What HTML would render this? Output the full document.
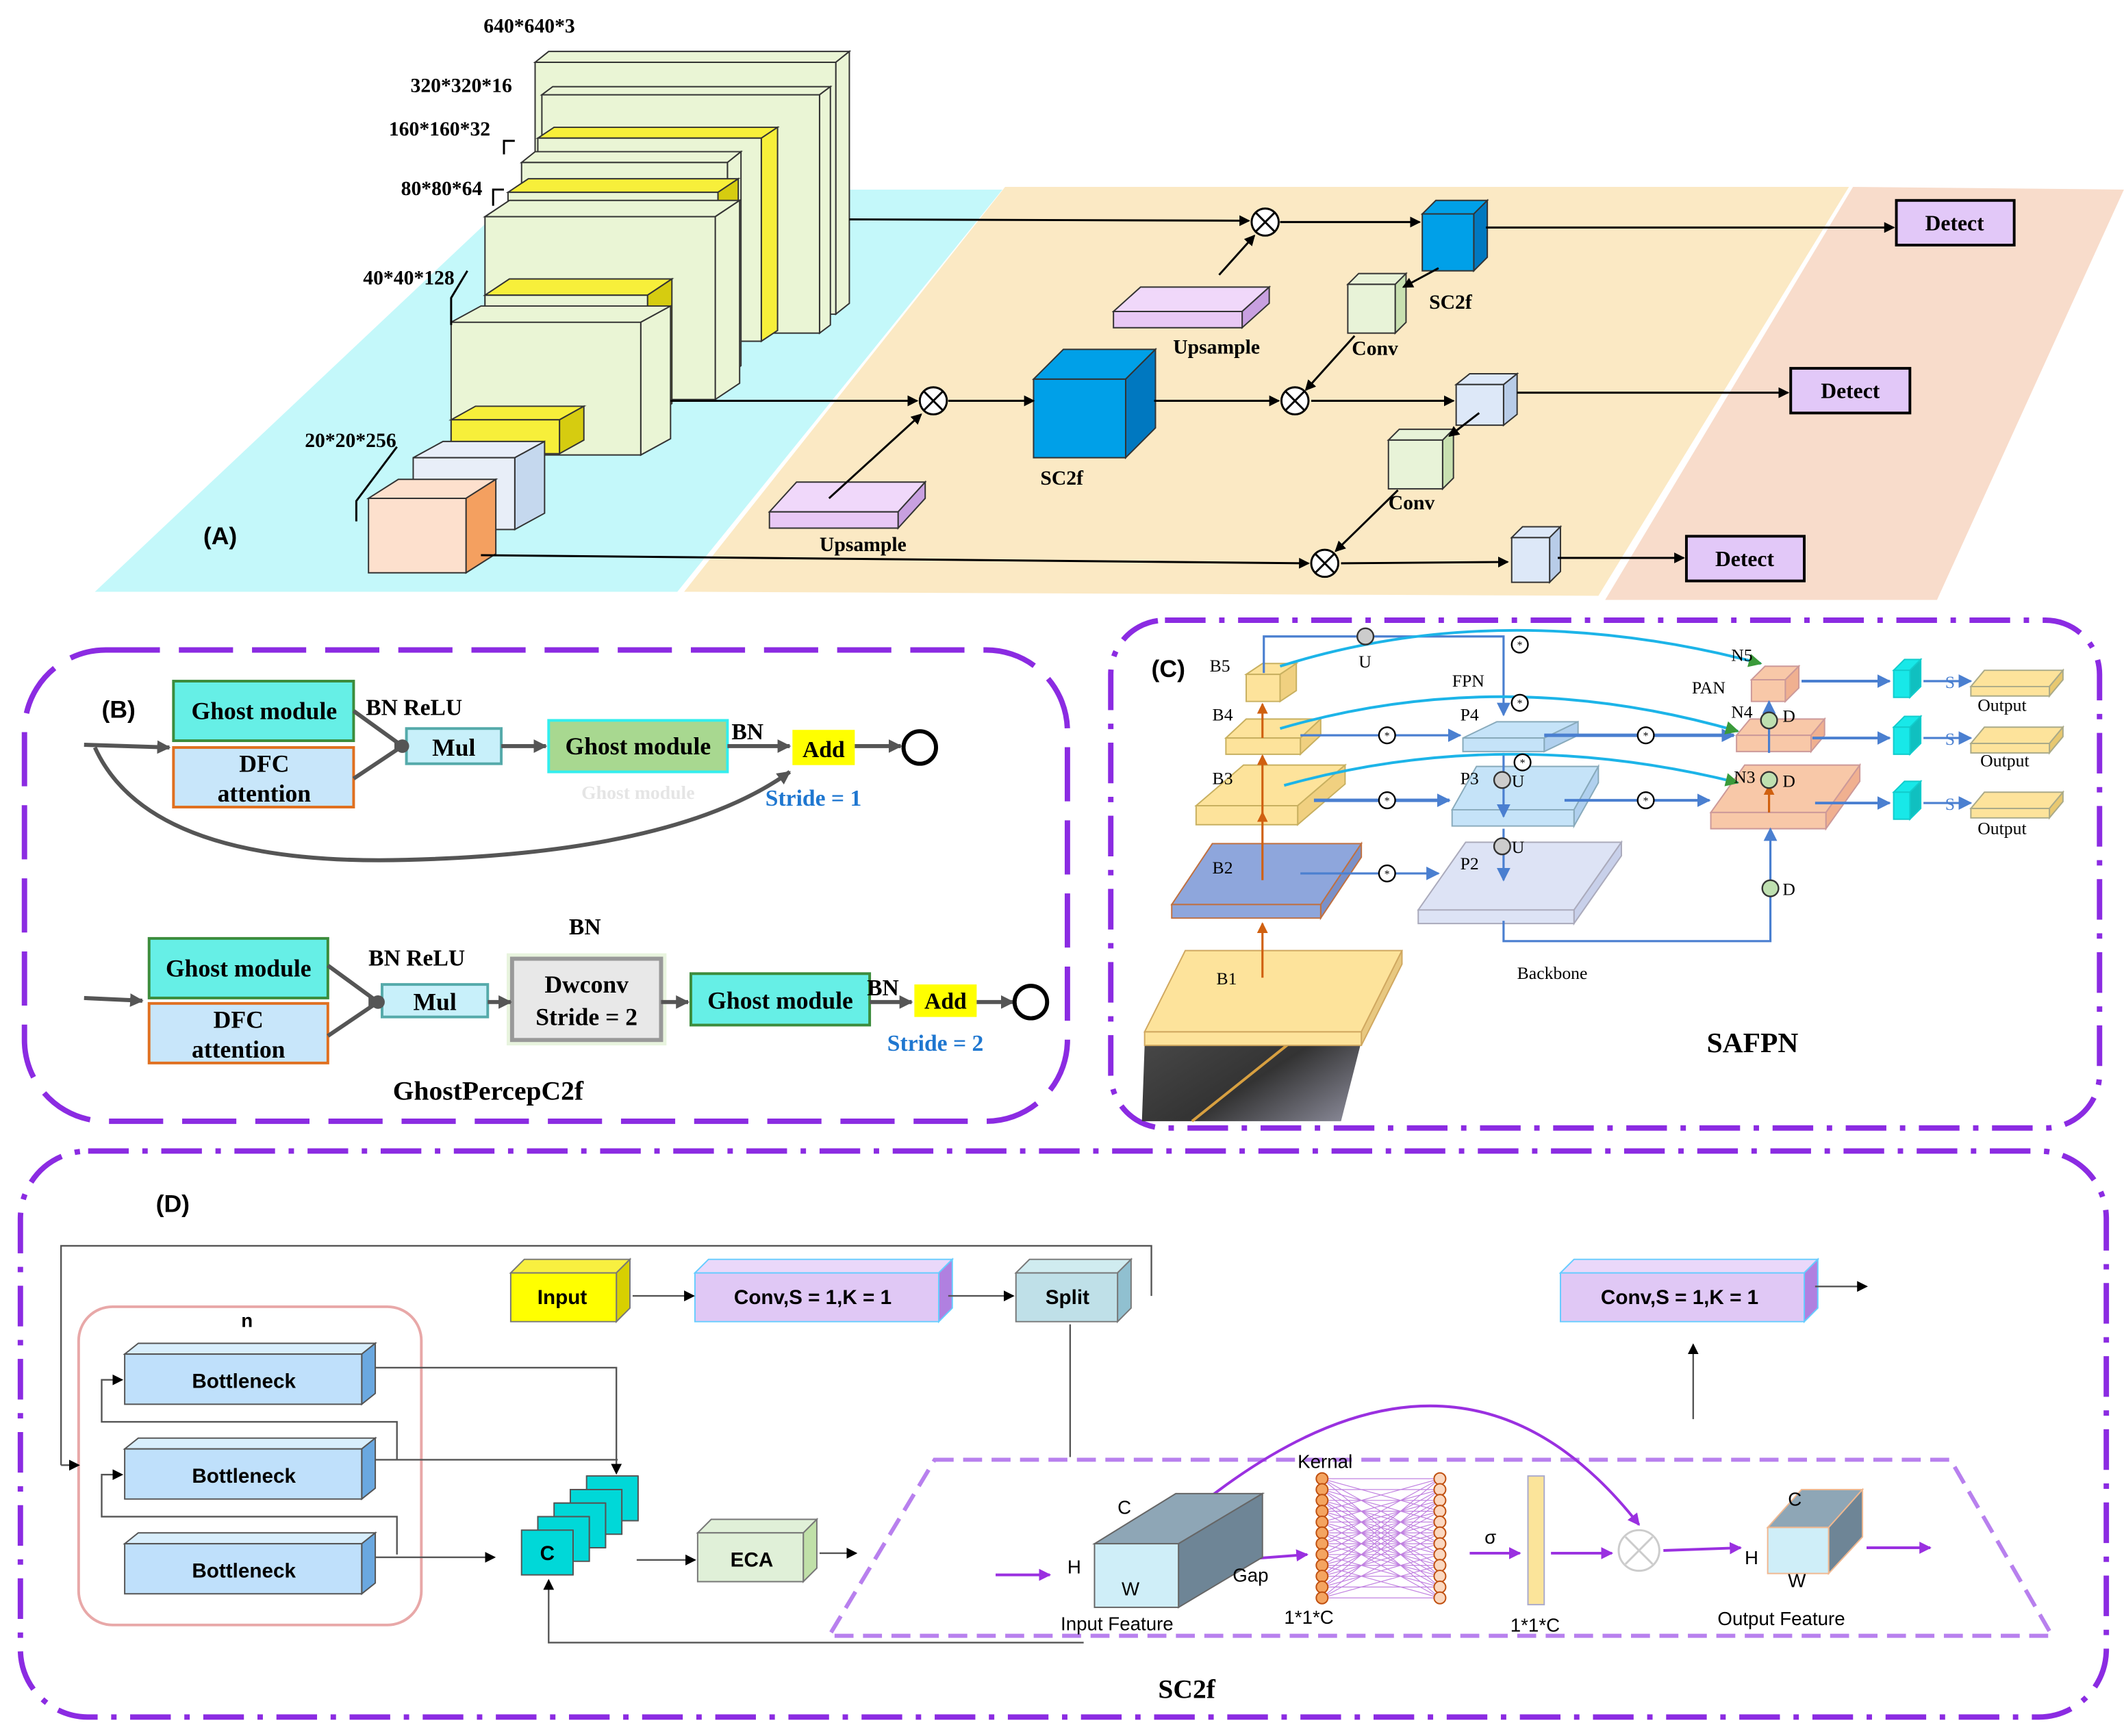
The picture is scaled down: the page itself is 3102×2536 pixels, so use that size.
<!DOCTYPE html>
<html><head><meta charset="utf-8"><style>
html,body{margin:0;padding:0;background:#fff}
svg{display:block}
.s{font-family:"Liberation Serif",serif;font-weight:bold}
.a{font-family:"Liberation Sans",sans-serif;font-weight:bold}
.n{font-family:"Liberation Serif",serif}
</style></head><body>
<svg id="g" width="3102" height="2536" viewBox="0 0 1568 1282" xmlns="http://www.w3.org/2000/svg">
<defs>
<marker id="ar" markerWidth="8" markerHeight="8" refX="7" refY="4" orient="auto" markerUnits="userSpaceOnUse"><path d="M0,0L8,4L0,8z" fill="#000"/></marker>
<marker id="ag" markerWidth="10" markerHeight="10" refX="9" refY="5" orient="auto" markerUnits="userSpaceOnUse"><path d="M0,0L10,5L0,10z" fill="#555"/></marker>
<marker id="ab" markerWidth="10" markerHeight="10" refX="9" refY="5" orient="auto" markerUnits="userSpaceOnUse"><path d="M0,0L10,5L0,10z" fill="#4a7fd0"/></marker>
<marker id="ao" markerWidth="8" markerHeight="8" refX="7" refY="4" orient="auto" markerUnits="userSpaceOnUse"><path d="M0,0L8,4L0,8z" fill="#d06010"/></marker>
<marker id="ac" markerWidth="10" markerHeight="10" refX="9" refY="5" orient="auto" markerUnits="userSpaceOnUse"><path d="M0,0L10,5L0,10z" fill="#3a9a3a"/></marker>
<marker id="ap" markerWidth="9" markerHeight="9" refX="8" refY="4.5" orient="auto" markerUnits="userSpaceOnUse"><path d="M0,0L9,4.5L0,9z" fill="#9a30e0"/></marker>
<linearGradient id="ph" x1="0" y1="0" x2="1" y2="1"><stop offset="0" stop-color="#555"/><stop offset="0.6" stop-color="#333"/><stop offset="1" stop-color="#99a"/></linearGradient>
</defs>
<!-- Panel A backgrounds -->
<polygon points="70,437 500,437 740,140 385,140" fill="#c4f8fa"/>
<polygon points="505,437 1180,440 1365,138 742,138" fill="#fbe9c4"/>
<polygon points="1185,443 1430,443 1568,140 1368,138" fill="#f8dccb"/>
<g id="cubesA"></g>
<g id="linesA" fill="none" stroke="#000" stroke-width="1.5">
<line x1="627" y1="162" x2="922" y2="163" marker-end="url(#ar)"/>
<line x1="945" y1="164" x2="1048" y2="164" marker-end="url(#ar)"/>
<line x1="1097" y1="168" x2="1398" y2="168" marker-end="url(#ar)"/>
<line x1="900" y1="203" x2="926" y2="174" marker-end="url(#ar)"/>
<line x1="1062" y1="198" x2="1036" y2="212" marker-end="url(#ar)"/>
<line x1="1000" y1="248" x2="964" y2="288" marker-end="url(#ar)"/>
<line x1="495" y1="296" x2="677" y2="296" marker-end="url(#ar)"/>
<line x1="700" y1="296" x2="763" y2="296" marker-end="url(#ar)"/>
<line x1="852" y1="296" x2="944" y2="296" marker-end="url(#ar)"/>
<line x1="968" y1="296" x2="1073" y2="296" marker-end="url(#ar)"/>
<line x1="1120" y1="290" x2="1320" y2="290" marker-end="url(#ar)"/>
<line x1="612" y1="368" x2="680" y2="306" marker-end="url(#ar)"/>
<line x1="1092" y1="305" x2="1070" y2="322" marker-end="url(#ar)"/>
<line x1="1032" y1="362" x2="986" y2="407" marker-end="url(#ar)"/>
<line x1="355" y1="410" x2="966" y2="416" marker-end="url(#ar)"/>
<line x1="990" y1="416" x2="1113" y2="415" marker-end="url(#ar)"/>
<line x1="1150" y1="412" x2="1243" y2="412" marker-end="url(#ar)"/>
<path d="M380,104 l-8,0 l0,10 M372,140 l-8,0 l0,12 M345,200 l-12,20 l0,20 M293,330 l-30,40 l0,15"/>
</g>
<g fill="#fff" stroke="#000" stroke-width="1.5">
<circle cx="934" cy="164" r="10"/><circle cx="689" cy="296" r="10"/><circle cx="956" cy="296" r="10"/><circle cx="978" cy="416" r="10"/>
</g>
<g stroke="#000" stroke-width="1.5">
<path d="M927,157l14,14M941,157l-14,14M682,289l14,14M696,289l-14,14M949,289l14,14M963,289l-14,14M971,409l14,14M985,409l-14,14"/>
</g>
<g fill="#e2c8f8" stroke="#000" stroke-width="2">
<rect x="1400" y="148" width="87" height="33"/><rect x="1322" y="272" width="88" height="33"/><rect x="1245" y="396" width="87" height="33"/>
</g>
<g class="s" font-size="16" text-anchor="middle"><text x="1443" y="170">Detect</text><text x="1366" y="294">Detect</text><text x="1288" y="418">Detect</text></g>
<g class="s" font-size="15">
<text x="357" y="24">640*640*3</text><text x="303" y="68">320*320*16</text><text x="287" y="100">160*160*32</text><text x="296" y="144">80*80*64</text><text x="268" y="210">40*40*128</text><text x="225" y="330">20*20*256</text>
<text x="1055" y="228">SC2f</text><text x="866" y="261">Upsample</text><text x="998" y="262">Conv</text><text x="768" y="358">SC2f</text><text x="1025" y="376">Conv</text><text x="605" y="407">Upsample</text>
</g>
<text class="a" x="150" y="402" font-size="18">(A)</text>

<!-- Panel B -->
<rect x="18" y="480" width="770" height="348" rx="60" fill="none" stroke="#8b2be2" stroke-width="4" stroke-dasharray="40 14"/>
<text class="a" x="75" y="530" font-size="18">(B)</text>
<g stroke-width="2">
<rect x="128" y="503" width="133" height="44" fill="#66efe6" stroke="#3c8c3c"/>
<rect x="128" y="552" width="133" height="44" fill="#c8e6fa" stroke="#e07020"/>
<rect x="300" y="538" width="70" height="26" fill="#c8f0fa" stroke="#5aa"/>
<rect x="405" y="532" width="132" height="38" fill="#a8d890" stroke="#3ee"/>
<rect x="585" y="539" width="46" height="26" fill="#ffff00" stroke="none"/>
<rect x="110" y="693" width="132" height="44" fill="#66efe6" stroke="#3c8c3c"/>
<rect x="110" y="741" width="132" height="44" fill="#c8e6fa" stroke="#e07020"/>
<rect x="282" y="727" width="78" height="24" fill="#c8f0fa" stroke="#5aa"/>
<rect x="374" y="704" width="118" height="68" fill="#d8ecc8" stroke="none" opacity="0.6"/>
<rect x="378" y="708" width="110" height="60" fill="#e8e8e8" stroke="#999" stroke-width="3"/>
<rect x="510" y="719" width="132" height="38" fill="#66efe6" stroke="#3c8c3c"/>
<rect x="675" y="727" width="46" height="24" fill="#ffff00" stroke="none"/>
</g>
<g fill="none" stroke="#555" stroke-width="3">
<line x1="62" y1="550" x2="125" y2="552" marker-end="url(#ag)"/>
<path d="M70,552 Q110,640 300,635 Q500,630 583,570" marker-end="url(#ag)"/>
<path d="M261,525 L297,551 M261,575 L297,551"/>
<line x1="297" y1="551" x2="300" y2="551" marker-end="url(#ag)"/>
<line x1="370" y1="551" x2="403" y2="551" marker-end="url(#ag)"/>
<line x1="537" y1="551" x2="583" y2="551" marker-end="url(#ag)"/>
<line x1="631" y1="551" x2="665" y2="551" marker-end="url(#ag)"/>
<line x1="62" y1="737" x2="105" y2="739" marker-end="url(#ag)"/>
<path d="M242,713 L279,740 M242,765 L279,740"/>
<line x1="279" y1="740" x2="281" y2="740" marker-end="url(#ag)"/>
<line x1="360" y1="740" x2="377" y2="740" marker-end="url(#ag)"/>
<line x1="488" y1="740" x2="508" y2="740" marker-end="url(#ag)"/>
<line x1="642" y1="740" x2="673" y2="740" marker-end="url(#ag)"/>
<line x1="721" y1="740" x2="748" y2="740" marker-end="url(#ag)"/>
</g>
<circle cx="297" cy="551" r="5" fill="#555"/><circle cx="279" cy="740" r="5" fill="#555"/>
<circle cx="679" cy="552" r="12" fill="#fff" stroke="#000" stroke-width="3"/>
<circle cx="761" cy="740" r="12" fill="#fff" stroke="#000" stroke-width="3"/>
<g class="s" font-size="18" text-anchor="middle">
<text x="195" y="531">Ghost module</text><text x="195" y="570">DFC</text><text x="195" y="592">attention</text>
<text x="335" y="558">Mul</text><text x="471" y="557">Ghost module</text>
<text x="608" y="559" font-size="17">Add</text>
<text x="176" y="721">Ghost module</text><text x="176" y="759">DFC</text><text x="176" y="781">attention</text>
<text x="321" y="746">Mul</text><text x="433" y="733">Dwconv</text><text x="433" y="757">Stride = 2</text>
<text x="576" y="745">Ghost module</text><text x="698" y="745" font-size="17">Add</text>
<text x="471" y="590" fill="#ccc" opacity="0.5" font-size="14">Ghost module</text>
</g>
<g class="s" font-size="17">
<text x="270" y="528">BN ReLU</text><text x="540" y="546">BN</text>
<text x="272" y="713">BN ReLU</text><text x="420" y="690">BN</text><text x="640" y="735">BN</text>
<text x="565" y="595" fill="#1f77d0">Stride = 1</text><text x="655" y="776" fill="#1f77d0">Stride = 2</text>
<text x="290" y="812" font-size="20">GhostPercepC2f</text>
</g>

<!-- Panel C -->
<rect x="820" y="458" width="730" height="375" rx="40" fill="none" stroke="#8b2be2" stroke-width="4" stroke-dasharray="30 10 4 10"/>
<text class="a" x="850" y="500" font-size="18">(C)</text>
<polygon points="845,772 1005,772 1018,718 990,828 843,828" fill="url(#ph)"/>
<path d="M880,828 L990,740" stroke="#d8a040" stroke-width="2"/>
<g id="cubesC"></g>
<g fill="none" stroke="#4a7fd0" stroke-width="1.6">
<path d="M933,497 V470 H1110 V528" marker-end="url(#ab)"/>
<line x1="960" y1="543" x2="1078" y2="543" marker-end="url(#ab)"/>
<line x1="1140" y1="543" x2="1280" y2="543" stroke-width="2.5" marker-end="url(#ab)"/>
<line x1="970" y1="591" x2="1070" y2="591" stroke-width="2.5" marker-end="url(#ab)"/>
<line x1="1155" y1="591" x2="1262" y2="591" stroke-width="2" marker-end="url(#ab)"/>
<line x1="960" y1="645" x2="1062" y2="645" marker-end="url(#ab)"/>
<line x1="1110" y1="556" x2="1110" y2="603" marker-end="url(#ab)"/>
<line x1="1110" y1="612" x2="1110" y2="650" marker-end="url(#ab)"/>
<path d="M1110,680 V695 H1307 V612" marker-end="url(#ab)"/>
<line x1="1306" y1="556" x2="1306" y2="518" marker-end="url(#ab)"/>
<line x1="1330" y1="503" x2="1395" y2="503" stroke-width="2" marker-end="url(#ab)"/>
<line x1="1338" y1="545" x2="1395" y2="545" stroke-width="2" marker-end="url(#ab)"/>
<line x1="1340" y1="593" x2="1395" y2="593" stroke-width="2" marker-end="url(#ab)"/>
<line x1="1420" y1="503" x2="1455" y2="503" marker-end="url(#ab)"/>
<line x1="1420" y1="545" x2="1455" y2="545" marker-end="url(#ab)"/>
<line x1="1420" y1="593" x2="1455" y2="593" marker-end="url(#ab)"/>
</g>
<g fill="none" stroke="#1cb4e8" stroke-width="2">
<path d="M945,492 Q1110,440 1300,490" marker-end="url(#ac)"/>
<path d="M945,538 Q1110,490 1283,540" marker-end="url(#ac)"/>
<path d="M948,580 Q1110,535 1283,578" marker-end="url(#ac)"/>
</g>
<g stroke="#d06010" stroke-width="1.6">
<line x1="932" y1="722" x2="932" y2="682" marker-end="url(#ao)"/>
<line x1="932" y1="650" x2="932" y2="600" marker-end="url(#ao)"/>
<line x1="932" y1="605" x2="932" y2="558" marker-end="url(#ao)"/>
<line x1="932" y1="545" x2="932" y2="520" marker-end="url(#ao)"/>
<line x1="1306" y1="600" x2="1306" y2="580" marker-end="url(#ao)"/>
</g>
<g fill="#fff" stroke="#000" stroke-width="1.2">
<circle cx="1122" cy="476" r="6"/><circle cx="1122" cy="519" r="6"/><circle cx="1124" cy="563" r="6"/><circle cx="1024" cy="543" r="6"/><circle cx="1215" cy="543" r="6"/><circle cx="1024" cy="591" r="6"/><circle cx="1215" cy="591" r="6"/><circle cx="1024" cy="645" r="6"/>
</g>
<g class="n" font-size="8" text-anchor="middle"><text x="1122" y="479">*</text><text x="1122" y="522">*</text><text x="1124" y="566">*</text><text x="1024" y="546">*</text><text x="1215" y="546">*</text><text x="1024" y="594">*</text><text x="1215" y="594">*</text><text x="1024" y="648">*</text></g>
<g stroke="#333" stroke-width="1.2"><circle cx="1008" cy="470" r="6" fill="#ccc"/><circle cx="1109" cy="576" r="6" fill="#ccc"/><circle cx="1109" cy="625" r="6" fill="#ccc"/>
<circle cx="1306" cy="532" r="6" fill="#bfe0b0"/><circle cx="1306" cy="576" r="6" fill="#bfe0b0"/><circle cx="1307" cy="656" r="6" fill="#bfe0b0"/></g>
<g class="n" font-size="13">
<text x="893" y="496">B5</text><text x="895" y="532">B4</text><text x="895" y="579">B3</text><text x="895" y="645">B2</text><text x="898" y="727">B1</text>
<text x="1003" y="493">U</text><text x="1072" y="507">FPN</text><text x="1078" y="532">P4</text><text x="1078" y="579">P3</text><text x="1116" y="581">U</text><text x="1116" y="630">U</text><text x="1078" y="642">P2</text>
<text x="1249" y="512">PAN</text><text x="1278" y="488">N5</text><text x="1278" y="530">N4</text><text x="1280" y="578">N3</text>
<text x="1316" y="533">D</text><text x="1316" y="581">D</text><text x="1316" y="661">D</text>
<text x="1120" y="723">Backbone</text>
<text x="1460" y="525">Output</text><text x="1462" y="566">Output</text><text x="1460" y="616">Output</text>
<text x="1436" y="508" fill="#4a7fd0">S</text><text x="1436" y="550" fill="#4a7fd0">S</text><text x="1436" y="598" fill="#4a7fd0">S</text>
</g>
<text class="s" x="1260" y="777" font-size="21">SAFPN</text>

<!-- Panel D -->
<rect x="15" y="850" width="1540" height="418" rx="50" fill="none" stroke="#8b2be2" stroke-width="4" stroke-dasharray="30 10 4 10"/>
<text class="a" x="115" y="895" font-size="18">(D)</text>
<polygon points="690,1078 1440,1078 1515,1208 612,1208" fill="none" stroke="#b880ee" stroke-width="3" stroke-dasharray="14 7"/>
<rect x="58" y="965" width="253" height="235" rx="25" fill="none" stroke="#e8a8a8" stroke-width="2"/>
<g id="cubesD"></g>
<g fill="none" stroke="#555" stroke-width="1.2">
<path d="M850,957 V920 H45 V1082" /><line x1="45" y1="1082" x2="58" y2="1082" marker-end="url(#ar)"/>
<path d="M277,1010 H455 V1088" marker-end="url(#ar)"/>
<path d="M277,1078 H456" />
<path d="M293,1078 V1050 H75 V1019 H90" marker-end="url(#ar)"/>
<path d="M293,1148 V1120 H75 V1089 H90" marker-end="url(#ar)"/>
<line x1="277" y1="1150" x2="365" y2="1150" marker-end="url(#ar)"/>
<line x1="470" y1="1152" x2="513" y2="1152" marker-end="url(#ar)"/>
<line x1="605" y1="1147" x2="632" y2="1147" marker-end="url(#ar)"/>
<line x1="467" y1="957" x2="512" y2="957" marker-end="url(#ar)"/>
<line x1="700" y1="957" x2="748" y2="957" marker-end="url(#ar)"/>
<line x1="790" y1="978" x2="790" y2="1076"/>
<line x1="1340" y1="950" x2="1378" y2="950" marker-end="url(#ar)"/>
<line x1="1250" y1="1048" x2="1250" y2="993" marker-end="url(#ar)"/>
<path d="M800,1213 H405 V1167" marker-end="url(#ar)"/>
</g>
<!-- kernel -->
<g id="kern"></g>
<rect x="1128" y="1090" width="12" height="95" fill="#fbe49a" stroke="#aac"/>
<circle cx="1210" cy="1145" r="15" fill="#fff" stroke="#ccc" stroke-width="1.5"/>
<path d="M1200,1135l20,20M1220,1135l-20,20" stroke="#ccc" stroke-width="1.5"/>
<g fill="none" stroke="#9a30e0" stroke-width="2">
<line x1="735" y1="1163" x2="775" y2="1163" marker-end="url(#ap)"/>
<line x1="912" y1="1152" x2="965" y2="1148" marker-end="url(#ap)"/>
<line x1="1085" y1="1147" x2="1122" y2="1147" marker-end="url(#ap)"/>
<line x1="1145" y1="1147" x2="1190" y2="1147" marker-end="url(#ap)"/>
<line x1="1228" y1="1145" x2="1285" y2="1143" marker-end="url(#ap)"/>
<line x1="1378" y1="1143" x2="1425" y2="1143" marker-end="url(#ap)"/>
<path d="M890,1108 Q1080,960 1210,1126" marker-end="url(#ap)"/>
</g>
<polygon points="808,1140 870,1140 932,1103 868,1103" fill="#8ea6b6" stroke="#666"/>
<polygon points="870,1140 932,1103 932,1150 870,1187" fill="#6e8596" stroke="#666"/>
<rect x="808" y="1140" width="62" height="47" fill="#cfeef8" stroke="#666"/>
<polygon points="1305,1128 1350,1128 1375,1100 1330,1100" fill="#8ea6b6" stroke="#f0b890"/>
<polygon points="1350,1128 1375,1100 1375,1135 1350,1162" fill="#6e8596" stroke="#f0b890"/>
<rect x="1305" y="1128" width="45" height="34" fill="#cfeef8" stroke="#f0b890"/>
<g font-family="Liberation Sans, sans-serif" font-size="14">
<text x="825" y="1118">C</text><text x="788" y="1162">H</text><text x="828" y="1178">W</text><text x="783" y="1204">Input Feature</text><text x="910" y="1168">Gap</text>
<text x="958" y="1084">Kernal</text><text x="948" y="1199">1*1*C</text><text x="1096" y="1140">σ</text><text x="1115" y="1205">1*1*C</text>
<text x="1320" y="1112">C</text><text x="1288" y="1155">H</text><text x="1320" y="1172">W</text><text x="1268" y="1200">Output Feature</text>
</g>
<text class="s" x="855" y="1254" font-size="20">SC2f</text>
<text class="a" x="178" y="980" font-size="14">n</text>
<g class="a" font-size="15" text-anchor="middle">
<text x="180" y="1025">Bottleneck</text><text x="180" y="1095">Bottleneck</text><text x="180" y="1165">Bottleneck</text>
<text x="415" y="963">Input</text><text x="600" y="963">Conv,S = 1,K = 1</text><text x="788" y="963">Split</text><text x="1240" y="963">Conv,S = 1,K = 1</text>
<text x="555" y="1157">ECA</text><text x="404" y="1152">C</text>
</g>
</svg>
<script>
var NS="http://www.w3.org/2000/svg";
function P(g,pts,f,st){var p=document.createElementNS(NS,"polygon");p.setAttribute("points",pts);p.setAttribute("fill",f);p.setAttribute("stroke",st||"#333");p.setAttribute("stroke-width","1");g.appendChild(p);}
function box(gid,x,y,w,h,dx,dy,front,top,side,st){var g=document.getElementById(gid);
P(g,[x,y,x+dx,y-dy,x+w+dx,y-dy,x+w,y].join(","),top,st);
P(g,[x+w,y,x+w+dx,y-dy,x+w+dx,y+h-dy,x+w,y+h].join(","),side,st);
P(g,[x,y,x+w,y,x+w,y+h,x,y+h].join(","),front,st);}
var G="#eaf5d5",Y="#f7ef3a",Yd="#d6cc10";
box("cubesA",395,46,222,186,10,8,G,G,G);
box("cubesA",400,70,205,176,8,6,G,G,G);
box("cubesA",397,102,165,150,12,8,G,Y,Y);
box("cubesA",385,120,152,158,10,8,G,G,G);
box("cubesA",375,142,155,150,15,10,G,Y,Yd);
box("cubesA",358,160,170,135,18,12,G,G,G);
box("cubesA",358,218,120,92,18,12,G,Y,Yd);
box("cubesA",333,238,140,98,22,12,G,G,G);
box("cubesA",333,310,80,25,18,10,Y,Y,Yd);
box("cubesA",305,338,75,53,22,12,"#e8eef8","#e8eef8","#c5d8ee");
box("cubesA",272,368,72,55,22,14,"#fde0cd","#fde0cd","#f4a060");
box("cubesA",1050,158,38,42,10,10,"#00a0e8","#00a0e8","#0078c0");
box("cubesA",822,230,95,12,20,18,"#e8c8f5","#f0d8fa","#c8a0e0");
box("cubesA",995,210,35,36,8,8,"#e8f3d8","#e8f3d8","#c8e0b0");
box("cubesA",763,280,68,58,22,22,"#00a0e8","#00a0e8","#0078c0");
box("cubesA",1075,284,35,30,10,8,"#dde8f8","#dde8f8","#b8cce8");
box("cubesA",568,378,95,12,20,22,"#e8c8f5","#f0d8fa","#c8a0e0");
box("cubesA",1025,325,40,36,8,8,"#e8f3d8","#e8f3d8","#c8e0b0");
box("cubesA",1116,397,28,33,8,8,"#dde8f8","#dde8f8","#b8cce8");
var LY="#fde39b";
box("cubesC",845,762,160,10,30,60,LY,LY,"#e8c880","#d0a860");
box("cubesC",865,668,110,10,30,45,"#8ea6dc","#8ea6dc","#7a90c8","#c07040");
box("cubesC",883,595,75,14,35,30,LY,LY,"#f0d080","#c8b060");
box("cubesC",905,545,55,12,15,14,LY,LY,"#f0d080","#c8b060");
box("cubesC",920,498,25,20,12,8,LY,LY,"#f0d080","#c8b060");
box("cubesC",1047,672,115,10,35,50,"#dde3f5","#dde3f5","#c8d0ea","#aab");
box("cubesC",1072,598,90,12,18,32,"#c5e3f8","#c5e3f8","#b0d0ee","#8ab");
box("cubesC",1080,545,60,10,25,12,"#c5e3f8","#c5e3f8","#b0d0ee","#8ab");
box("cubesC",1263,600,85,12,25,35,"#f8c8a8","#f8c8a8","#f0b090","#c99");
box("cubesC",1282,543,55,12,10,12,"#f8c8a8","#f8c8a8","#f0b090","#c99");
box("cubesC",1293,502,25,16,10,10,"#f8c8a8","#f8c8a8","#f0b090","#c99");
[503,545,593].forEach(function(y){box("cubesC",1398,y-8,12,20,8,8,"#18e8e8","#18e8e8","#10c0c0","#1cc");box("cubesC",1455,y+4,58,7,10,12,LY,LY,"#e8c870","#aa8");});
for(var i=0;i<3;i++)box("cubesD",92,1000+70*i,175,37,10,8,"#bfe0fb","#d8eefc","#6aa8e0","#555");
for(var i=4;i>=0;i--)box("cubesD",385+i*12,1130-i*10,38,33,0,0,"#00d8d8","#00d8d8","#00d8d8","#555");
box("cubesD",515,1132,78,36,10,10,"#e0f0d8","#e0f0d8","#c0e0a8","#777");
box("cubesD",377,940,78,36,10,10,"#ffff00","#f8f040","#d8d000","#777");
box("cubesD",513,940,180,36,10,10,"#e0c8f5","#ead8fa","#b080e0","#6cf");
box("cubesD",750,940,75,36,10,10,"#bfe0e8","#d0ecf0","#90c0d0","#777");
box("cubesD",1152,940,180,36,10,10,"#e0c8f5","#ead8fa","#b080e0","#6cf");
var k=document.getElementById("kern");
for(var j=0;j<12;j++){var yy=1092+j*8;
for(var m=0;m<12;m+=3){var l=document.createElementNS(NS,"line");l.setAttribute("x1",976);l.setAttribute("y1",yy);l.setAttribute("x2",1063);l.setAttribute("y2",1092+((j+m)%12)*8);l.setAttribute("stroke","#c080e0");l.setAttribute("stroke-width","0.6");k.appendChild(l);}}
for(var j=0;j<12;j++){var yy=1092+j*8;
var c=document.createElementNS(NS,"circle");c.setAttribute("cx",976);c.setAttribute("cy",yy);c.setAttribute("r",4.3);c.setAttribute("fill","#f4a460");c.setAttribute("stroke","#c05010");k.appendChild(c);
var c2=document.createElementNS(NS,"circle");c2.setAttribute("cx",1063);c2.setAttribute("cy",yy);c2.setAttribute("r",4.3);c2.setAttribute("fill","#fbd8c0");c2.setAttribute("stroke","#c05010");k.appendChild(c2);}
</script>
</body></html>
